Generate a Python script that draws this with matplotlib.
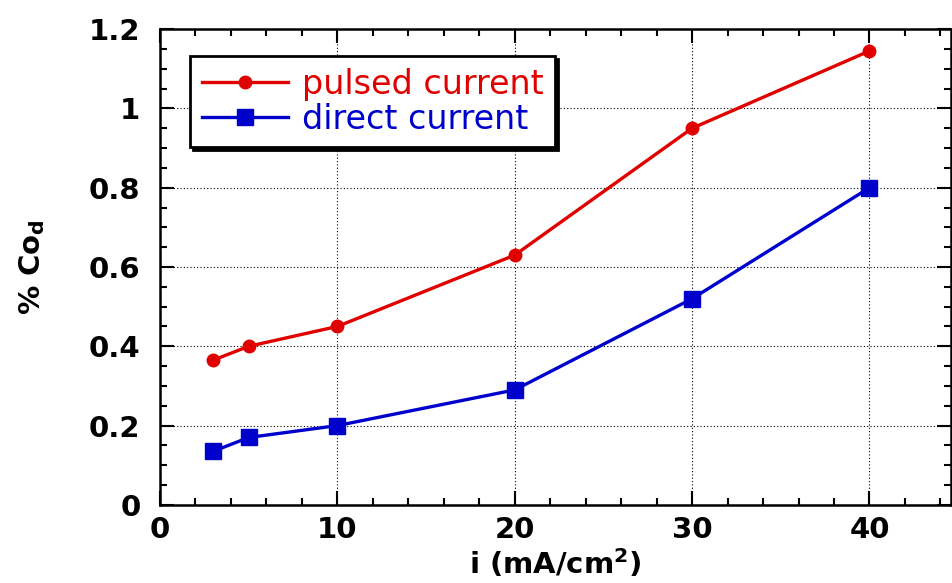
import matplotlib.pyplot as plt
from matplotlib.ticker import MultipleLocator

# data
current = [3, 5, 10, 20, 30, 40]
pulsed = [0.365, 0.40, 0.45, 0.63, 0.95, 1.145]
direct = [0.135, 0.17, 0.20, 0.29, 0.52, 0.80]

plt.rcParams['font.family'] = 'DejaVu Sans'
plt.rcParams['mathtext.fontset'] = 'dejavusans'

fig = plt.figure(figsize=(9.52, 5.83), dpi=100)
ax = fig.add_axes([0.168, 0.134, 0.831, 0.816])

ax.plot(current, pulsed, color='#e00000', lw=2.4, marker='o', ms=9, label='pulsed current')
ax.plot(current, direct, color='#0000cc', lw=2.4, marker='s', ms=12, label='direct current')

ax.set_xlim(0, 44.6)
ax.set_ylim(0, 1.2)
ax.xaxis.set_major_locator(MultipleLocator(10))
ax.xaxis.set_minor_locator(MultipleLocator(2))
ax.yaxis.set_minor_locator(MultipleLocator(0.05))
ax.set_yticks([0, 0.2, 0.4, 0.6, 0.8, 1.0, 1.2])
ax.set_yticklabels(['0', '0.2', '0.4', '0.6', '0.8', '1', '1.2'])

ax.tick_params(which='both', direction='in', top=True, right=True, width=1.5)
ax.tick_params(which='major', length=10, labelsize=21)
ax.tick_params(axis='x', which='major', pad=8)
ax.tick_params(axis='y', which='major', pad=14)
ax.tick_params(which='minor', length=5)
for lab in ax.get_xticklabels() + ax.get_yticklabels():
    lab.set_fontweight('bold')
for s in ax.spines.values():
    s.set_linewidth(1.8)

ax.grid(True, which='major', linestyle=(0, (1, 2)), color='black', lw=0.8)

ax.set_xlabel(r'i (mA/cm$^\mathbf{2}$)', fontsize=21, fontweight='bold', labelpad=2)
ax.set_ylabel(r'% Co$_\mathbf{d}$', fontsize=21, fontweight='bold', labelpad=30)

leg = ax.legend(loc='upper left', bbox_to_anchor=(0.038, 0.943), fontsize=24,
                frameon=True, shadow={'color': 'black', 'alpha': 1},
                fancybox=False, handlelength=2.6,
                borderpad=0.35, labelspacing=0.05, handletextpad=0.4,
                borderaxespad=0)
leg.get_frame().set_edgecolor('black')
leg.get_frame().set_linewidth(2)
for txt, line in zip(leg.get_texts(), leg.get_lines()):
    txt.set_color(line.get_color())

plt.savefig('out.png', dpi=100)
